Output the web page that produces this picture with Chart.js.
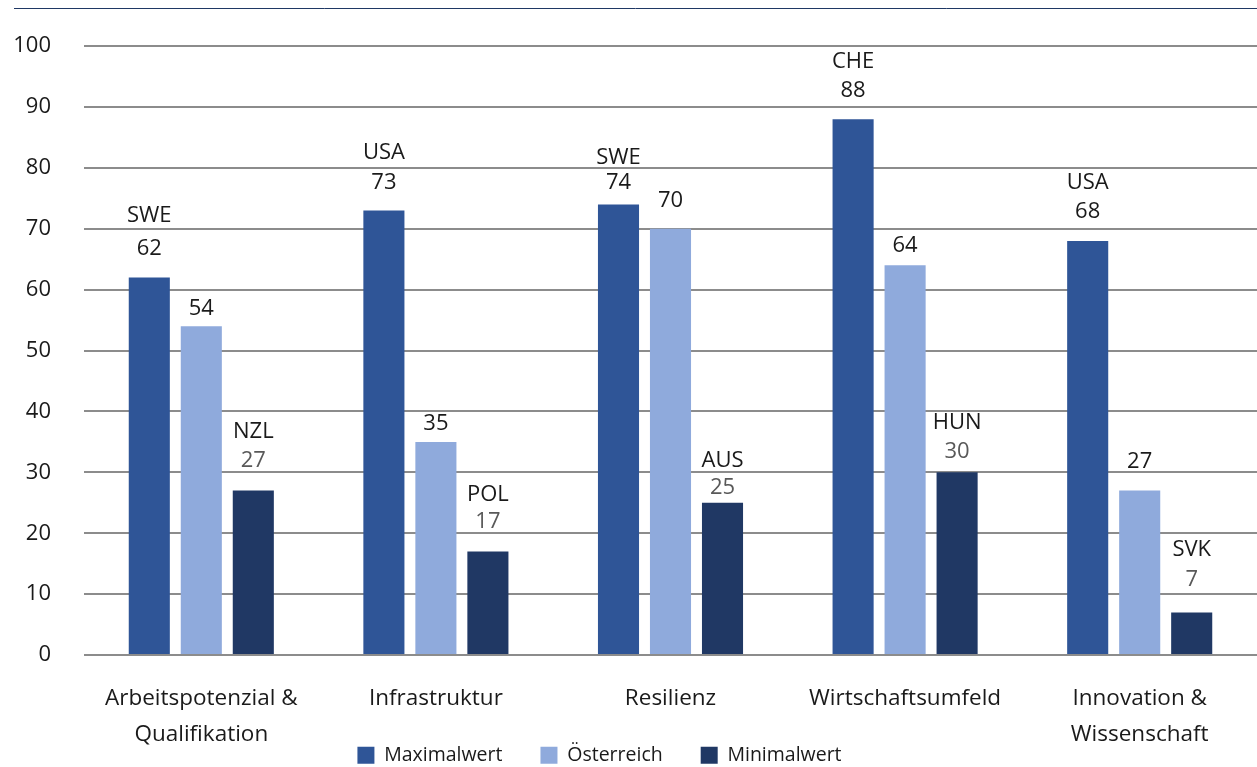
<!DOCTYPE html>
<html>
<head>
<meta charset="utf-8">
<script src="https://cdn.jsdelivr.net/npm/chart.js@4.4.1/dist/chart.umd.min.js"></script>
<style>
  html, body { margin: 0; padding: 0; background: #ffffff; }
  #wrap { width: 1257px; height: 767px; position: relative; }
</style>
</head>
<body>
<div id="wrap"><canvas id="c" width="1257" height="767"></canvas></div>
<script>
const categories = [
  ['Arbeitspotenzial &', 'Qualifikation'],
  'Infrastruktur',
  'Resilienz',
  'Wirtschaftsumfeld',
  ['Innovation &', 'Wissenschaft']
];
const maxValues = [62, 73, 74, 88, 68];
const maxCountries = ['SWE', 'USA', 'SWE', 'CHE', 'USA'];
const austriaValues = [54, 35, 70, 64, 27];
const minValues = [27, 17, 25, 30, 7];
const minCountries = ['NZL', 'POL', 'AUS', 'HUN', 'SVK'];
const yTicks = [0, 10, 20, 30, 40, 50, 60, 70, 80, 90, 100];

const FONT = '"Open Sans", "Noto Sans", sans-serif';
const TEXT = '#1a1a1a';
Chart.defaults.font.family = FONT;
Chart.defaults.color = TEXT;

// Label placement above each bar (px): value line, then country line
const valueLift = [
  [29, 28, 22, 29, 29],
  [18, 18, 28.5, 20, 29],
  [29.5, 30, 15.5, 20.5, 33]
];
const countryLift = [
  [62, 58, 47, 57.5, 58],
  null,
  [58.5, 56.5, 42, 49.5, 63]
];

const barLabels = {
  id: 'barLabels',
  afterDatasetsDraw(chart) {
    const ctx = chart.ctx;
    ctx.save();
    ctx.font = '22px ' + FONT;
    ctx.textAlign = 'center';
    ctx.textBaseline = 'middle';
    chart.data.datasets.forEach((ds, di) => {
      const meta = chart.getDatasetMeta(di);
      meta.data.forEach((bar, i) => {
        const x = bar.x, top = bar.y;
        ctx.fillStyle = ds.valueColor;
        ctx.fillText(String(ds.data[i]), x, top - valueLift[di][i]);
        if (ds.countries) {
          ctx.fillStyle = TEXT;
          ctx.fillText(ds.countries[i], x, top - countryLift[di][i]);
        }
      });
    });
    ctx.restore();
  }
};

// Thin rule across the top of the figure; legend nudged under the plot,
// category labels allowed to run into the space beside the legend
const frame = {
  id: 'frame',
  afterLayout(chart) {
    const lg = chart.legend;
    if (lg) {
      lg.left -= 29; lg.right -= 29;
      lg.top += 8; lg.bottom += 8;
    }
    const x = chart.scales.x;
    x.bottom = chart.height;
  },
  beforeDraw(chart) {
    const ctx = chart.ctx;
    ctx.save();
    ctx.strokeStyle = '#1F3864';
    ctx.lineWidth = 1;
    ctx.beginPath();
    ctx.moveTo(14, 8.5);
    ctx.lineTo(chart.width, 8.5);
    ctx.stroke();
    ctx.restore();
  }
};

new Chart(document.getElementById('c'), {
  type: 'bar',
  data: {
    labels: categories,
    datasets: [
      { label: 'Maximalwert', data: maxValues, countries: maxCountries,
        backgroundColor: '#2F5597', valueColor: TEXT },
      { label: 'Österreich', data: austriaValues,
        backgroundColor: '#8FAADC', valueColor: TEXT },
      { label: 'Minimalwert', data: minValues, countries: minCountries,
        backgroundColor: '#203864', valueColor: '#595959' }
    ]
  },
  options: {
    responsive: false,
    animation: false,
    devicePixelRatio: 1,
    categoryPercentage: 0.665,
    barPercentage: 0.79,
    layout: { padding: { top: 45, right: 0, left: 0, bottom: 0 } },
    plugins: {
      legend: {
        position: 'bottom',
        labels: {
          font: { size: 19.5 },
          color: TEXT,
          boxWidth: 17,
          boxHeight: 17,
          padding: 38
        }
      },
      tooltip: { enabled: false }
    },
    scales: {
      x: {
        grid: { display: false, drawTicks: false },
        border: { display: false },
        afterFit(axis) { axis.height = 44.5; },
        ticks: { font: { size: 22.5, lineHeight: 1.6 }, color: TEXT, padding: 26, maxRotation: 0, autoSkip: false }
      },
      y: {
        min: 0, max: 100,
        afterBuildTicks(axis) { axis.ticks = yTicks.map(v => ({ value: v })); },
        afterFit(axis) { axis.width = 84; },
        grid: { color: '#8c8c8c', lineWidth: 2, drawTicks: false },
        border: { display: false },
        ticks: { font: { size: 22 }, color: TEXT, padding: 33 }
      }
    }
  },
  plugins: [barLabels, frame]
});
</script>
</body>
</html>
